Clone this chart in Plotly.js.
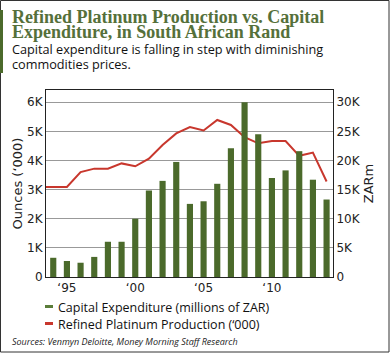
<!DOCTYPE html>
<html><head><meta charset="utf-8">
<script src="https://cdn.plot.ly/plotly-3.0.1.min.js"></script>
<style>html,body{margin:0;padding:0;background:#fff}#c{width:390px;height:353px}</style>
</head><body><div id="c"></div>
<script>
// Data
const years = [1994,1995,1996,1997,1998,1999,2000,2001,2002,2003,2004,2005,2006,2007,2008,2009,2010,2011,2012,2013,2014];
const capex = [3300,2750,2450,3450,6050,6050,10000,14850,16500,19750,12550,13000,16000,22100,30000,24500,17000,18300,21600,16700,13300];
const prodYears = [1993,1994,1995,1996,1997,1998,1999,2000,2001,2002,2003,2004,2005,2006,2007,2008,2009,2010,2011,2012,2013,2014];
const production = [3090,3090,3090,3600,3720,3720,3900,3800,4060,4530,4930,5150,5030,5390,5220,4800,4590,4670,4670,4160,4270,3280];
const xTickVals = [1995,2000,2005,2010];
const xTickText = ['‘95','‘00','‘05','‘10'];
const leftTickVals = [0,1000,2000,3000,4000,5000,6000];
const leftTickText = ['0','1K','2K','3K','4K','5K','6K'];
const rightTickVals = [0,5000,10000,15000,20000,25000,30000];
const rightTickText = ['0','5K','10K','15K','20K','25K','30K'];
const seriesNames = ['Capital Expenditure (millions of ZAR)','Refined Platinum Production (‘000)'];
const titleLines = ['Refined Platinum Production vs. Capital','Expenditure, in South African Rand'];
const subtitleLines = ['Capital expenditure is falling in step with diminishing','commodities prices.'];
const sourceText = 'Sources: Venmyn Deloitte, Money Morning Staff Research';

const W=390,H=353, L=46, R=57, T=90, B=76;
const pw=W-L-R, ph=H-T-B;
const px=x=>(x-L)/pw, py=y=>(H-B-y)/ph;
const green='#4b6a2b', red='#c8372d';
const sans='"Open Sans", "Liberation Sans", sans-serif';
const tickFont={family:'"DejaVu Sans", Verdana, sans-serif', size:12, color:'#222'};

const traces=[
 {type:'bar', x:years, y:capex, yaxis:'y2', name:seriesNames[0], marker:{color:green}, width:0.45, showlegend:false},
 {type:'scatter', mode:'lines', x:prodYears, y:production, yaxis:'y', name:seriesNames[1], line:{color:red,width:2}, showlegend:false}
];
const ann=(x,y,text,font,anchor)=>({xref:'paper',yref:'paper',x:px(x),y:py(y),xanchor:'left',yanchor:anchor||'middle',align:'left',showarrow:false,borderpad:0,text,font});
const titleFont={family:'"Liberation Serif", serif',size:18,color:'#55703a'};
const subFont={family:sans,size:12.7,color:'#111'};
const legFont={family:sans,size:12.5,color:'#111'};
const layout={
 width:W,height:H,margin:{l:L,r:R,t:T,b:B},paper_bgcolor:'#fff',plot_bgcolor:'#fff',
 showlegend:false,
 xaxis:{range:[1993.47,2014.47],tickvals:xTickVals,ticktext:xTickText,tickfont:tickFont,showgrid:false,zeroline:false,showline:true,linecolor:'#222',mirror:true,ticks:'',ticklen:0},
 yaxis:{range:[0,6420],tickvals:leftTickVals,ticktext:leftTickText,tickfont:tickFont,showgrid:true,gridcolor:'#999',gridwidth:1,zeroline:true,zerolinecolor:'#222',showline:true,linecolor:'#222',ticks:'',
   title:{text:'Ounces (‘000)',font:{family:tickFont.family,size:13,color:'#222'},standoff:1}},
 yaxis2:{range:[0,32100],overlaying:'y',side:'right',tickvals:rightTickVals,ticktext:rightTickText,tickfont:tickFont,showgrid:false,zeroline:false,showline:true,linecolor:'#222',ticks:'',
   title:{text:'ZARm',font:{family:tickFont.family,size:13,color:'#222'},standoff:4}},
 annotations:[
  ann(11,17,'<b>'+titleLines[0]+'</b>',titleFont),
  ann(11,32,'<b>'+titleLines[1]+'</b>',titleFont),
  ann(11,49,subtitleLines[0],subFont),
  ann(11,64,subtitleLines[1],subFont),
  ann(57,307,seriesNames[0],legFont),
  ann(57,324,seriesNames[1],legFont),
  ann(11,341,'<i>'+sourceText+'</i>',{family:sans,size:9,color:'#222'})
 ],
 shapes:[
  {type:'rect',xref:'paper',yref:'paper',x0:px(0.5),x1:px(389),y0:py(0.5),y1:py(352),line:{color:'#333',width:1}},
  {type:'rect',xref:'paper',yref:'paper',x0:px(0),x1:px(3),y0:py(10),y1:py(73),fillcolor:green,line:{width:0}},
  {type:'rect',xref:'paper',yref:'paper',x0:px(45),x1:px(53),y0:py(305),y1:py(308),fillcolor:'#5a7d3a',line:{width:0}},
  {type:'rect',xref:'paper',yref:'paper',x0:px(45),x1:px(53),y0:py(322),y1:py(325),fillcolor:red,line:{width:0}}
 ]
};
Plotly.newPlot('c',traces,layout,{staticPlot:true,displayModeBar:false});
</script></body></html>
